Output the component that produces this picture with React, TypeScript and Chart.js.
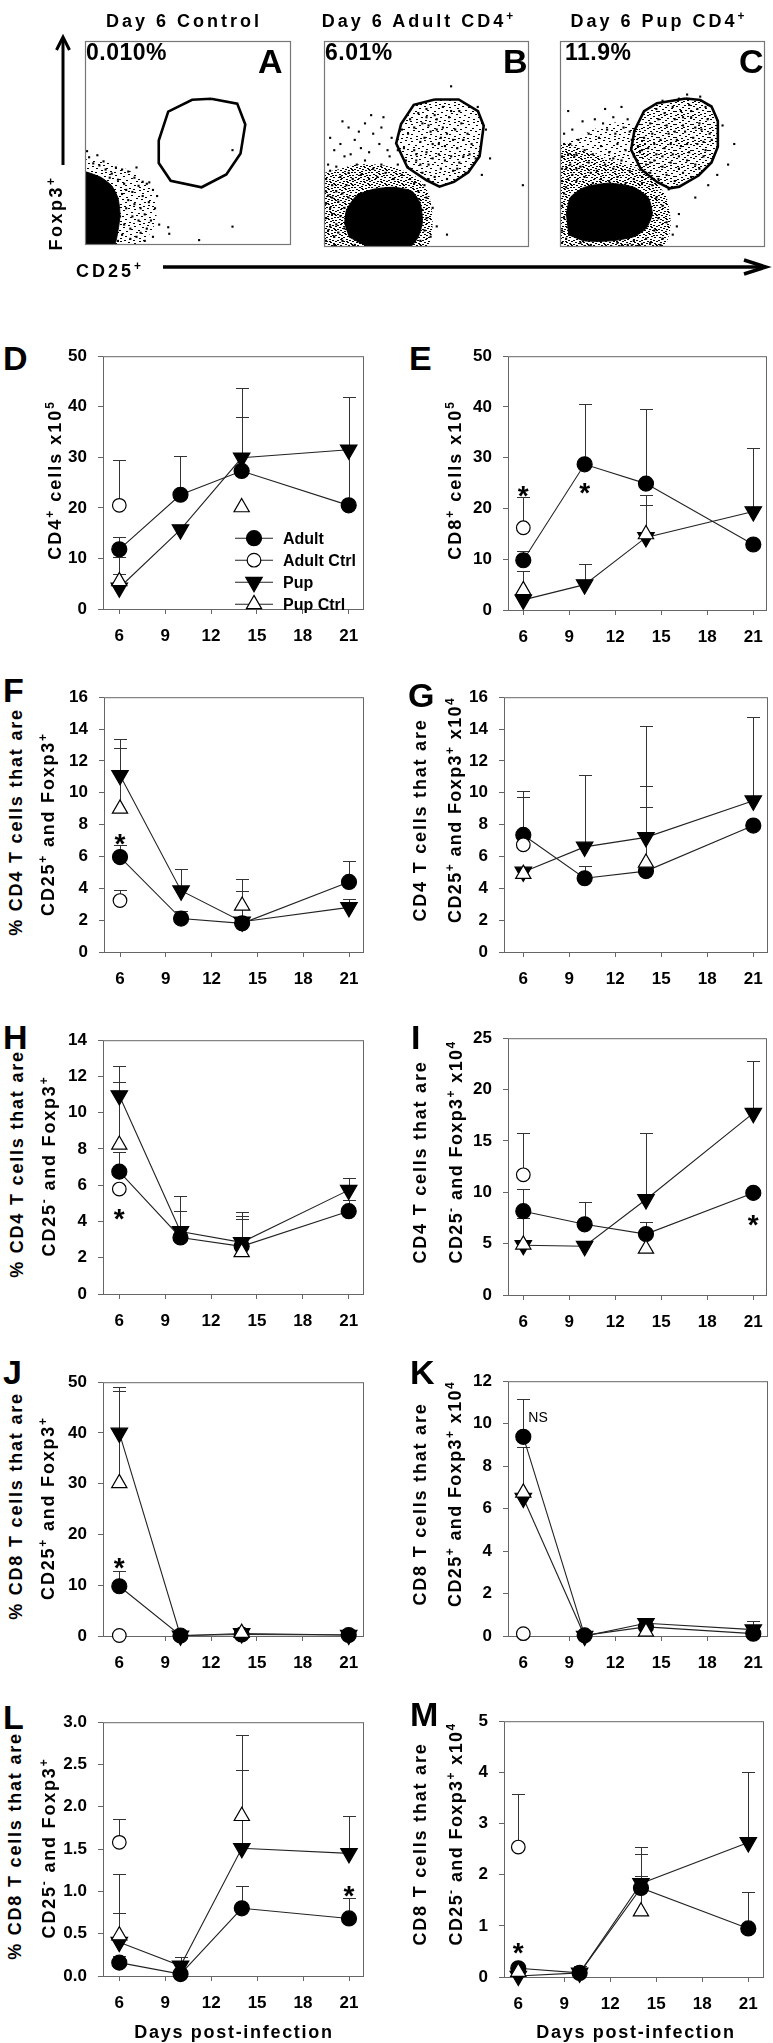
import React, { useEffect, useRef } from 'react';
import { Chart, registerables } from 'chart.js';

Chart.register(...registerables);

if (typeof document !== 'undefined') document.body.style.margin = '0';

const FONT = '"Liberation Sans", Arial, Helvetica, sans-serif';

// ================= DATA: time-course panels =================
const DAYS = [6, 10, 14, 21];
const CTRL_DAYS = [6, 14];
const X_TICKS = [6, 9, 12, 15, 18, 21];
const SERIES_NAMES = ['Adult', 'Adult Ctrl', 'Pup', 'Pup Ctrl'];

// D: CD4+ cells x10^5
const dAdult = [11.8, 22.6, 27.3, 20.5];
const dAdultHi = [14.3, 30.2, 43.7, 41.9];
const dPup = [4.2, 15.7, 29.9, 31.5];
const dPupHi = [10.2, null, 37.9, null];
const dAdultCtrl = [20.5, null];
const dAdultCtrlHi = [29.5, null];
const dPupCtrl = [5.5, 20.1];
const dPupCtrlHi = [6.9, null];
const dYTicks = [0, 10, 20, 30, 40, 50];
const dNotes: any[] = [];

// E: CD8+ cells x10^5
const eAdult = [9.8, 28.7, 24.9, 12.9];
const eAdultHi = [11.6, 40.5, 39.5, null];
const ePup = [2.0, 5.0, 14.3, 19.4];
const ePupHi = [7.7, 9.0, 20.6, 32.0];
const eAdultCtrl = [16.2, null];
const eAdultCtrlHi = [22.2, null];
const ePupCtrl = [3.9, 14.9];
const ePupCtrlHi = [null, 22.7];
const eYTicks = [0, 10, 20, 30, 40, 50];
const eNotes = [{ x: 6, y: 23.8, t: '*' }, { x: 10, y: 24.4, t: '*' }];

// F: % CD4 T cells CD25+ Foxp3+
const fAdult = [5.96, 2.1, 1.8, 4.4];
const fAdultHi = [6.7, 2.6, null, 5.7];
const fPup = [11.1, 3.85, 1.9, 2.8];
const fPupHi = [13.4, 5.2, 3.85, 3.35];
const fAdultCtrl = [3.23, null];
const fAdultCtrlHi = [3.9, null];
const fPupCtrl = [9.0, 2.9];
const fPupCtrlHi = [12.8, 4.6];
const fYTicks = [0, 2, 4, 6, 8, 10, 12, 14, 16];
const fNotes = [{ x: 6, y: 7.25, t: '*' }];

// G: CD4 T cells CD25+ Foxp3+ x10^4
const gAdult = [7.35, 4.63, 5.08, 7.94];
const gAdultHi = [10.1, 5.4, 9.1, null];
const gPup = [5.03, 6.6, 7.2, 9.5];
const gPupHi = [null, 11.1, 14.2, 14.77];
const gAdultCtrl = [6.73, null];
const gAdultCtrlHi = [9.73, null];
const gPupCtrl = [4.9, 5.6];
const gPupCtrlHi = [null, 10.4];
const gYTicks = [0, 2, 4, 6, 8, 10, 12, 14, 16];
const gNotes: any[] = [];

// H: % CD4 T cells CD25- Foxp3+
const hAdult = [6.75, 3.12, 2.63, 4.57];
const hAdultHi = [7.83, 4.58, 4.15, 5.2];
const hPup = [10.95, 3.45, 2.85, 5.73];
const hPupHi = [12.6, 5.43, 4.5, 6.39];
const hAdultCtrl = [5.79, null];
const hAdultCtrlHi = [null, null];
const hPupCtrl = [8.23, 2.3];
const hPupCtrlHi = [11.7, 4.3];
const hYTicks = [0, 2, 4, 6, 8, 10, 12, 14];
const hNotes = [{ x: 6, y: 4.5, t: '*' }];

// I: CD4 T cells CD25- Foxp3+ x10^4
const iAdult = [8.16, 6.88, 5.93, 9.94];
const iAdultHi = [10.3, 9.1, 7.07, null];
const iPup = [4.84, 4.75, 9.3, 17.7];
const iPupHi = [7.45, null, 15.8, 22.8];
const iAdultCtrl = [11.7, null];
const iAdultCtrlHi = [15.8, null];
const iPupCtrl = [4.9, 4.5];
const iPupCtrlHi = [null, null];
const iYTicks = [0, 5, 10, 15, 20, 25];
const iNotes = [{ x: 21, y: 7.45, t: '*' }];

// J: % CD8 T cells CD25+ Foxp3+
const jAdult = [9.8, 0.1, 0.3, 0.2];
const jAdultHi = [12.85, null, null, null];
const jPup = [40.0, 0.05, 0.5, 0.2];
const jPupHi = [49.0, null, null, null];
const jAdultCtrl = [0.1, null];
const jAdultCtrlHi = [null, null];
const jPupCtrl = [30.1, 0.6];
const jPupCtrlHi = [48.2, null];
const jYTicks = [0, 10, 20, 30, 40, 50];
const jNotes = [{ x: 6, y: 14.8, t: '*' }];

// K: CD8 T cells CD25+ Foxp3+ x10^4
const kAdult = [9.38, 0.03, 0.43, 0.11];
const kAdultHi = [11.18, null, 0.87, null];
const kPup = [6.5, 0.0, 0.6, 0.3];
const kPupHi = [null, null, null, 0.71];
const kAdultCtrl = [0.11, null];
const kAdultCtrlHi = [null, null];
const kPupCtrl = [6.75, 0.2];
const kPupCtrlHi = [8.92, null];
const kYTicks = [0, 2, 4, 6, 8, 10, 12];
const kNotes = [{ x: 6, y: 10.26, t: 'NS' }];

// L: % CD8 T cells CD25- Foxp3+
const lAdult = [0.158, 0.023, 0.8, 0.68];
const lAdultHi = [0.235, 0.22, 1.06, 0.92];
const lPup = [0.4, 0.12, 1.51, 1.45];
const lPupHi = [1.21, null, 2.43, 1.89];
const lAdultCtrl = [1.58, null];
const lAdultCtrlHi = [1.85, null];
const lPupCtrl = [0.48, 1.89];
const lPupCtrlHi = [0.75, 2.85];
const lYTicks = [0, 0.5, 1.0, 1.5, 2.0, 2.5, 3.0];
const lNotes = [{ x: 21, y: 1.03, t: '*' }];

// M: CD8 T cells CD25- Foxp3+ x10^4
const mAdult = [0.17, 0.08, 1.74, 0.95];
const mAdultHi = [null, 0.22, 2.41, 1.67];
const mPup = [0.02, 0.08, 1.83, 2.63];
const mPupHi = [null, null, 2.54, 4.01];
const mAdultCtrl = [2.54, null];
const mAdultCtrlHi = [3.58, null];
const mPupCtrl = [0.1, 1.28];
const mPupCtrlHi = [null, 1.97];
const mYTicks = [0, 1, 2, 3, 4, 5];
const mNotes = [{ x: 6, y: 0.6, t: '*' }];

// ================= DATA: flow cytometry panels (0-100 plot units) =================
const aGate = [61.2, 71.7, 73.9, 69.3, 77.8, 59.1, 75.5, 44.9, 68.6, 34.6, 56.6, 28.3, 41.6, 31.5, 35.8, 40.2, 35.8, 51.2, 40.4, 65.4, 52.0, 71.2];
const aCore = [0, 0, 14, 0, 16, 7, 17, 15, 16, 23, 13, 29, 8, 33, 3, 35, 0, 36];
const aHalo = [0, 0, 26, 0, 33, 8, 35, 18, 32, 28, 24, 35, 14, 40, 5, 42, 0, 42];
const aDots = [16, 2, 18, 5, 19, 10, 17, 14, 20, 18, 18, 25, 21, 22, 22, 8, 23, 14, 24, 20, 25, 4, 19, 30, 16, 32, 13, 35, 10, 37, 7, 39, 4, 40, 20, 27, 23, 26, 26, 12, 27, 18, 28, 24, 30, 8, 29, 15, 31, 21, 26, 29, 24, 33, 22, 3, 32, 12, 34, 18, 33, 27, 36, 10, 28, 31, 21, 36, 9, 41, 15, 38, 12, 33, 27, 6, 30, 30, 35, 24, 18, 37, 25, 38, 2, 43, 6, 44, 29, 2, 33, 4, 71.6, 46.5, 71.6, 9, 55.4, 2.4, 40.9, 5.5, 31.2, 30.7, 40.4, 8.7, 1, 46];

const bGate = [54.0, 71.6, 65.7, 71.6, 75.1, 65.9, 77.9, 58.9, 75.9, 44.1, 70.4, 36.3, 63.4, 31.6, 56.3, 29.3, 50.1, 32.4, 40.7, 38.6, 35.2, 50.3, 37.6, 59.7, 43.8, 69.0];
const bCore = [12, 5, 20, 1, 30, 0, 42, 0, 46, 5, 48, 12, 47, 21, 43, 27, 34, 29, 24, 28, 16, 25, 11, 18, 10, 11];
const bHalo = [0, 0, 50, 0, 53, 12, 51, 26, 45, 34, 36, 38, 26, 40, 16, 40, 8, 38, 0, 36];
const bDots = [1, 3, 2, 8, 1, 14, 3, 19, 2, 25, 4, 30, 1, 33, 5, 5, 6, 11, 4, 16, 7, 22, 6, 27, 8, 34, 3, 37, 9, 3, 10, 9, 8, 15, 10, 19, 9, 26, 11, 30, 12, 36, 2, 40, 6, 39, 1, 21, 5, 1, 11, 14, 12, 24, 3, 10, 7, 7, 1, 27, 13, 6, 4, 24,
  15, 1, 20, 0.5, 25, 1, 30, 0.5, 38, 1, 42, 1, 47, 3, 49, 8, 50, 14, 48, 18, 50, 24, 46, 27, 49, 30, 52, 5, 53, 19, 55, 10, 51, 33, 44, 31,
  14, 33, 18, 35, 22, 33, 26, 34, 30, 36, 34, 33, 38, 35, 42, 33, 16, 40, 20, 42, 24, 38, 28, 40, 32, 44, 36, 40, 13, 45, 18, 48, 22, 46, 27, 50, 31, 47, 10, 44, 15, 52, 24, 55, 8, 50, 33, 53, 12, 58, 20, 60, 28, 58, 5, 47, 36, 47, 40, 42, 3, 53, 17, 56, 29, 63, 38, 57, 23, 64, 9, 61,
  42, 38, 45, 42, 48, 36, 51, 40, 54, 34, 57, 38, 60, 33, 63, 37, 66, 41, 69, 36, 44, 47, 47, 51, 50, 46, 53, 50, 56, 45, 59, 49, 62, 44, 65, 48, 68, 52, 71, 45, 41, 55, 44, 58, 48, 60, 52, 56, 55, 62, 58, 58, 61, 63, 64, 57, 67, 60, 70, 55, 46, 65, 50, 67, 54, 64, 58, 68, 62, 66, 49, 53, 53, 43, 57, 53, 60, 55, 45, 45, 72, 50, 74, 43, 39, 48, 66, 66, 42, 62, 51, 59, 56, 50, 63, 52, 47, 40, 59, 42, 55, 57, 68, 44, 65, 38, 50, 63,
  62, 78, 81, 43, 97, 30, 60, 6, 79, 57, 77, 35, 75, 68];

const cGate = [61.4, 72.1, 68.4, 71.4, 73.9, 68.2, 77.0, 61.2, 77.0, 48.7, 73.9, 41.0, 67.6, 34.7, 58.2, 29.3, 53.5, 28.5, 47.3, 31.6, 39.4, 37.9, 34.7, 47.2, 36.3, 56.5, 41.0, 65.9, 47.3, 69.8];
const cCore = [4, 6, 12, 3, 25, 3, 36, 5, 42, 9, 45, 16, 43, 24, 36, 29, 24, 31, 12, 29, 5, 24, 3, 15];
const cHalo = [0, 0, 50, 0, 54, 10, 52, 24, 46, 32, 38, 38, 26, 42, 14, 46, 4, 50, 0, 50];
const cHalo2 = [0, 48, 10, 54, 24, 60, 36, 60, 42, 52, 42, 40, 30, 40, 16, 46, 0, 50];
const cDots = [1, 2, 1, 8, 2, 14, 1, 20, 2, 26, 1, 32, 3, 38, 1, 44, 3, 4, 2, 50, 4, 33, 3, 29, 5, 40, 6, 35, 8, 38, 1, 38, 4, 45, 7, 44, 2, 55, 5, 50,
  10, 2, 15, 1, 20, 3, 25, 0.5, 28, 2, 33, 1, 36, 3, 42, 4, 44, 2, 46, 8, 48, 14, 50, 20, 47, 24, 52, 12, 55, 6, 58, 16, 53, 28, 45, 30, 12, 0.5, 38, 0.5, 30, 0.5, 40, 1.5, 35, 0.8, 49, 1, 50, 4, 57, 10,
  8, 32, 12, 34, 16, 31, 20, 33, 24, 32, 28, 34, 32, 31, 36, 33, 40, 31, 10, 39, 14, 41, 18, 37, 22, 40, 26, 38, 30, 42, 34, 37, 38, 40, 42, 36, 12, 47, 16, 45, 20, 49, 24, 46, 28, 50, 32, 47, 36, 44, 9, 52, 14, 55, 19, 53, 23, 57, 27, 55, 31, 58, 35, 52, 6, 57, 11, 61, 17, 62, 26, 63, 33, 62, 4, 66, 22, 67, 30, 68, 44, 41, 40, 47, 15, 36, 26, 43, 38, 49, 8, 45, 21, 60, 34, 56,
  40, 34, 44, 36, 48, 33, 52, 35, 56, 32, 60, 36, 64, 34, 68, 38, 42, 40, 46, 42, 50, 39, 54, 41, 58, 38, 62, 42, 66, 40, 70, 44, 39, 46, 43, 48, 47, 45, 51, 48, 55, 45, 59, 49, 63, 46, 67, 50, 71, 47, 74, 52, 41, 53, 45, 55, 49, 52, 53, 55, 57, 52, 61, 56, 65, 53, 69, 57, 73, 55, 44, 60, 48, 62, 52, 59, 56, 62, 60, 59, 64, 63, 68, 60, 72, 62, 47, 67, 51, 65, 55, 68, 59, 66, 63, 69, 67, 67, 71, 68, 50, 44, 58, 44, 62, 50, 54, 50, 46, 50, 66, 58, 70, 51, 60, 63, 56, 56, 64, 66, 50, 71, 58, 72,
  76.7, 35, 72.3, 30, 79.3, 59, 68.4, 73, 82, 40, 66, 24, 62, 74, 85, 50];

// ================= layout / style =================
const PADL = 72, PADT = 16, PADR = 14, PADB = 48;
const LINE_COLOR = '#222';
const ERR_COLOR = '#333';
const AXIS_COLOR = '#666';
const CAP = 6.5;

// speckle textures (style only): tile width, height and 2x1 dash offsets
const TILE_DENSE = { w: 17, h: 15, cells: [0, 0, 5, 0, 11, 1, 14, 0, 2, 2, 8, 2, 15, 3, 4, 3, 10, 4, 1, 5, 13, 5, 6, 5, 3, 7, 9, 7, 12, 8, 0, 8, 6, 9, 15, 9, 2, 10, 10, 10, 5, 11, 13, 11, 8, 12, 0, 12, 11, 13, 3, 13, 15, 13, 7, 14, 7, 1, 12, 3, 4, 6, 9, 9, 14, 12] };
const TILE_MEDHI = { w: 17, h: 13, cells: [0, 0, 6, 0, 12, 1, 3, 2, 9, 3, 15, 3, 1, 4, 7, 5, 13, 6, 4, 7, 10, 8, 0, 9, 15, 9, 6, 10, 12, 11, 2, 12, 8, 12] };
const TILE_MED = { w: 19, h: 17, cells: [1, 0, 9, 1, 15, 2, 4, 3, 12, 5, 0, 6, 7, 7, 17, 8, 3, 9, 11, 10, 15, 12, 6, 12, 1, 14, 10, 15, 14, 16, 5, 16] };

const STYLE: any = {
  adult: { shape: 'circle', r: 7.5, rot: 0, bg: '#000' },
  adultCtrl: { shape: 'circle', r: 6.8, rot: 0, bg: '#fff' },
  pup: { shape: 'triangle', r: 9.5, rot: 180, bg: '#000' },
  pupCtrl: { shape: 'triangle', r: 8.8, rot: 0, bg: '#fff' },
};

const PANELS: any[] = [
  { id: 'D', adult: dAdult, adultHi: dAdultHi, pup: dPup, pupHi: dPupHi, aCtrl: dAdultCtrl, aCtrlHi: dAdultCtrlHi, pCtrl: dPupCtrl, pCtrlHi: dPupCtrlHi, yTicks: dYTicks, notes: dNotes, legend: true, box: { l: 103, r: 364, t: 351, b: 609, x6: 119.3, x21: 348.7 } },
  { id: 'E', adult: eAdult, adultHi: eAdultHi, pup: ePup, pupHi: ePupHi, aCtrl: eAdultCtrl, aCtrlHi: eAdultCtrlHi, pCtrl: ePupCtrl, pCtrlHi: ePupCtrlHi, yTicks: eYTicks, notes: eNotes, box: { l: 508, r: 767, t: 351, b: 610, x6: 523.3, x21: 753.3 } },
  { id: 'F', adult: fAdult, adultHi: fAdultHi, pup: fPup, pupHi: fPupHi, aCtrl: fAdultCtrl, aCtrlHi: fAdultCtrlHi, pCtrl: fPupCtrl, pCtrlHi: fPupCtrlHi, yTicks: fYTicks, notes: fNotes, box: { l: 104, r: 364, t: 692, b: 952, x6: 120, x21: 349 } },
  { id: 'G', adult: gAdult, adultHi: gAdultHi, pup: gPup, pupHi: gPupHi, aCtrl: gAdultCtrl, aCtrlHi: gAdultCtrlHi, pCtrl: gPupCtrl, pCtrlHi: gPupCtrlHi, yTicks: gYTicks, notes: gNotes, box: { l: 504, r: 768, t: 692, b: 952, x6: 523.3, x21: 753.3 } },
  { id: 'H', adult: hAdult, adultHi: hAdultHi, pup: hPup, pupHi: hPupHi, aCtrl: hAdultCtrl, aCtrlHi: hAdultCtrlHi, pCtrl: hPupCtrl, pCtrlHi: hPupCtrlHi, yTicks: hYTicks, notes: hNotes, box: { l: 103, r: 364, t: 1035, b: 1294, x6: 119.3, x21: 348.7 } },
  { id: 'I', adult: iAdult, adultHi: iAdultHi, pup: iPup, pupHi: iPupHi, aCtrl: iAdultCtrl, aCtrlHi: iAdultCtrlHi, pCtrl: iPupCtrl, pCtrlHi: iPupCtrlHi, yTicks: iYTicks, notes: iNotes, box: { l: 508, r: 767, t: 1033, b: 1295, x6: 523.3, x21: 753.3 } },
  { id: 'J', adult: jAdult, adultHi: jAdultHi, pup: jPup, pupHi: jPupHi, aCtrl: jAdultCtrl, aCtrlHi: jAdultCtrlHi, pCtrl: jPupCtrl, pCtrlHi: jPupCtrlHi, yTicks: jYTicks, notes: jNotes, box: { l: 103, r: 364, t: 1377, b: 1636, x6: 119.3, x21: 348.7 } },
  { id: 'K', adult: kAdult, adultHi: kAdultHi, pup: kPup, pupHi: kPupHi, aCtrl: kAdultCtrl, aCtrlHi: kAdultCtrlHi, pCtrl: kPupCtrl, pCtrlHi: kPupCtrlHi, yTicks: kYTicks, notes: kNotes, box: { l: 508, r: 768, t: 1376, b: 1636, x6: 523.3, x21: 753.3 } },
  { id: 'L', adult: lAdult, adultHi: lAdultHi, pup: lPup, pupHi: lPupHi, aCtrl: lAdultCtrl, aCtrlHi: lAdultCtrlHi, pCtrl: lPupCtrl, pCtrlHi: lPupCtrlHi, yTicks: lYTicks, notes: lNotes, decimals: 1, box: { l: 103, r: 364, t: 1717, b: 1976, x6: 119.3, x21: 349 } },
  { id: 'M', adult: mAdult, adultHi: mAdultHi, pup: mPup, pupHi: mPupHi, aCtrl: mAdultCtrl, aCtrlHi: mAdultCtrlHi, pCtrl: mPupCtrl, pCtrlHi: mPupCtrlHi, yTicks: mYTicks, notes: mNotes, box: { l: 504, r: 764, t: 1716, b: 1977, x6: 518.3, x21: 748.3 } },
];

const FLOWS: any[] = [
  { id: 'A', gate: aGate, core: aCore, halos: [{ pts: aHalo, tile: TILE_MED }], dots: aDots, gateTile: null, box: { l: 81, t: 37, w: 214, h: 212 } },
  { id: 'B', gate: bGate, core: bCore, halos: [{ pts: bHalo, tile: TILE_DENSE }], dots: bDots, gateTile: TILE_MED, box: { l: 320, t: 37, w: 213, h: 214 } },
  { id: 'C', gate: cGate, core: cCore, halos: [{ pts: cHalo, tile: TILE_DENSE }, { pts: cHalo2, tile: TILE_MED }], dots: cDots, gateTile: TILE_MEDHI, box: { l: 556, t: 37, w: 213, h: 214 } },
];

// ================= helpers =================
function pairs(flat: number[]) {
  const out: any[] = [];
  for (let i = 0; i < flat.length; i += 2) out.push({ x: flat[i], y: flat[i + 1] });
  return out;
}
function closed(flat: number[]) {
  const p = pairs(flat);
  p.push({ ...p[0] });
  return p;
}
function series(xs: number[], ys: any[]) {
  return xs.map((x, i) => ({ x, y: ys[i] }));
}
function makePattern(tile: any) {
  const c = document.createElement('canvas');
  c.width = tile.w;
  c.height = tile.h;
  const g = c.getContext('2d') as CanvasRenderingContext2D;
  g.fillStyle = '#000';
  for (let i = 0; i < tile.cells.length; i += 2) g.fillRect(tile.cells[i], tile.cells[i + 1], 2, 1);
  return g.createPattern(c, 'repeat');
}
function drawMarker(ctx: CanvasRenderingContext2D, st: any, x: number, y: number) {
  ctx.beginPath();
  if (st.shape === 'circle') {
    ctx.arc(x, y, st.r, 0, Math.PI * 2);
  } else {
    let rad = (st.rot * Math.PI) / 180;
    for (let i = 0; i < 3; i++) {
      const px = x + Math.sin(rad) * st.r;
      const py = y - Math.cos(rad) * st.r;
      if (i === 0) ctx.moveTo(px, py); else ctx.lineTo(px, py);
      rad += (2 * Math.PI) / 3;
    }
    ctx.closePath();
  }
  ctx.fillStyle = st.bg;
  ctx.fill();
  ctx.lineWidth = 1.2;
  ctx.strokeStyle = '#000';
  ctx.stroke();
}

// ================= line panel =================
function LinePanel({ p }: { p: any }) {
  const ref = useRef<HTMLCanvasElement>(null);
  const L = Math.round(p.box.l), R = Math.round(p.box.r), T = Math.round(p.box.t), B = Math.round(p.box.b);
  const W = PADL + (R - L) + PADR;
  const H = PADT + (B - T) + PADB;

  useEffect(() => {
    const ppd = (p.box.x21 - p.box.x6) / 15;
    const xMin = 6 - (p.box.x6 - L) / ppd;
    const xMax = 21 + (R - p.box.x21) / ppd;
    const mk = (label: string, xs: number[], ys: any[], hi: any[], st: any, showLine: boolean) => ({
      type: 'line',
      label,
      data: series(xs, ys),
      errHi: hi,
      showLine,
      spanGaps: true,
      fill: false,
      tension: 0,
      clip: false,
      borderColor: LINE_COLOR,
      borderWidth: 1.1,
      pointStyle: st.shape,
      pointRadius: st.r,
      pointRotation: st.rot,
      pointBackgroundColor: st.bg,
      pointBorderColor: '#000',
      pointBorderWidth: 1.2,
    });
    const datasets = [
      mk(SERIES_NAMES[3], CTRL_DAYS, p.pCtrl, p.pCtrlHi, STYLE.pupCtrl, false),
      mk(SERIES_NAMES[1], CTRL_DAYS, p.aCtrl, p.aCtrlHi, STYLE.adultCtrl, false),
      mk(SERIES_NAMES[0], DAYS, p.adult, p.adultHi, STYLE.adult, true),
      mk(SERIES_NAMES[2], DAYS, p.pup, p.pupHi, STYLE.pup, true),
    ];

    const boxAndErr = {
      id: 'boxAndErr',
      beforeDatasetsDraw(chart: any) {
        const { ctx, chartArea: a } = chart;
        const xs = chart.scales.x, ys = chart.scales.y;
        ctx.save();
        ctx.strokeStyle = AXIS_COLOR;
        ctx.lineWidth = 1;
        ctx.strokeRect(a.left + 0.5, a.top + 0.5, a.right - a.left - 1, a.bottom - a.top);
        ctx.strokeStyle = ERR_COLOR;
        ctx.lineWidth = 1;
        chart.data.datasets.forEach((ds: any) => {
          const hi = ds.errHi;
          if (!hi) return;
          ds.data.forEach((d: any, j: number) => {
            if (d.y == null || hi[j] == null) return;
            const px = Math.round(xs.getPixelForValue(d.x)) + 0.5;
            const y0 = ys.getPixelForValue(d.y);
            const y1 = Math.round(ys.getPixelForValue(hi[j])) + 0.5;
            ctx.beginPath();
            ctx.moveTo(px, y0);
            ctx.lineTo(px, y1);
            ctx.moveTo(px - CAP, y1);
            ctx.lineTo(px + CAP, y1);
            ctx.stroke();
          });
        });
        ctx.restore();
      },
      afterDatasetsDraw(chart: any) {
        const { ctx, chartArea: a } = chart;
        const xs = chart.scales.x, ys = chart.scales.y;
        ctx.save();
        ctx.fillStyle = '#000';
        p.notes.forEach((n: any) => {
          const px = xs.getPixelForValue(n.x);
          const py = ys.getPixelForValue(n.y);
          if (n.t === '*') {
            ctx.font = `bold 28px ${FONT}`;
            ctx.textAlign = 'center';
            ctx.textBaseline = 'alphabetic';
            ctx.fillText('*', px, py + 16);
          } else {
            ctx.font = `14px ${FONT}`;
            ctx.textAlign = 'left';
            ctx.textBaseline = 'middle';
            ctx.fillText(n.t, px + 5, py);
          }
        });
        if (p.legend) {
          const rows = [182, 204, 226, 248];
          const order = [STYLE.adult, STYLE.adultCtrl, STYLE.pup, STYLE.pupCtrl];
          order.forEach((st: any, i: number) => {
            const y = a.top + rows[i];
            ctx.strokeStyle = LINE_COLOR;
            ctx.lineWidth = 1.1;
            ctx.beginPath();
            ctx.moveTo(a.left + 132, y);
            ctx.lineTo(a.left + 170, y);
            ctx.stroke();
            drawMarker(ctx, st, a.left + 151, y);
            ctx.fillStyle = '#000';
            ctx.font = `bold 16px ${FONT}`;
            ctx.textAlign = 'left';
            ctx.textBaseline = 'middle';
            ctx.fillText(SERIES_NAMES[i], a.left + 180, y + 1);
          });
        }
        ctx.restore();
      },
    };

    const tickFont = { family: FONT, size: 17, weight: 'bold' as const };
    const chart = new Chart(ref.current as HTMLCanvasElement, {
      type: 'line',
      data: { datasets: datasets as any },
      options: {
        animation: false,
        responsive: false,
        events: [],
        layout: { padding: { left: 0, top: PADT, right: PADR, bottom: 0 } },
        plugins: { legend: { display: false }, tooltip: { enabled: false } },
        scales: {
          x: {
            type: 'linear',
            min: xMin,
            max: xMax,
            afterFit: (s: any) => { s.height = PADB; },
            afterBuildTicks: (s: any) => { s.ticks = X_TICKS.map((v) => ({ value: v })); },
            grid: { drawOnChartArea: false, drawTicks: true, tickLength: 5, color: AXIS_COLOR },
            border: { display: false },
            ticks: { padding: 12, font: tickFont, color: '#000', maxRotation: 0, autoSkip: false, callback: (v: any) => String(v) },
          },
          y: {
            type: 'linear',
            min: 0,
            max: p.yTicks[p.yTicks.length - 1],
            afterFit: (s: any) => { s.width = PADL; },
            afterBuildTicks: (s: any) => { s.ticks = p.yTicks.map((v: number) => ({ value: v })); },
            grid: { drawOnChartArea: false, drawTicks: true, tickLength: 5, color: AXIS_COLOR },
            border: { display: false },
            ticks: { padding: 11, font: tickFont, color: '#000', autoSkip: false, callback: (v: any) => (p.decimals ? Number(v).toFixed(p.decimals) : String(v)) },
          },
        },
      } as any,
      plugins: [boxAndErr],
    });
    return () => chart.destroy();
  }, []);

  return (
    <canvas
      ref={ref}
      width={W}
      height={H}
      style={{ position: 'absolute', left: L - PADL, top: T - PADT, width: W, height: H }}
    />
  );
}

// ================= flow panel =================
function FlowPanel({ f }: { f: any }) {
  const ref = useRef<HTMLCanvasElement>(null);
  const { l, t, w, h } = f.box;
  useEffect(() => {
    const datasets: any[] = [
      { type: 'line', data: closed(f.gate), borderColor: '#000', borderWidth: 2.6, pointRadius: 0, fill: false, tension: 0, clip: false },
      { type: 'scatter', data: pairs(f.dots), pointStyle: 'rect', pointRadius: 1.5, backgroundColor: '#000', borderWidth: 0 },
      { type: 'line', data: pairs(f.core), fill: 'shape', backgroundColor: '#000', borderColor: '#000', borderWidth: 1, pointRadius: 0, tension: 0.2 },
      ...f.halos.map((hh: any) => ({ type: 'line', data: pairs(hh.pts), fill: 'shape', backgroundColor: makePattern(hh.tile), borderWidth: 0, pointRadius: 0, tension: 0.25 })),
    ];
    if (f.gateTile) {
      datasets.push({ type: 'line', data: closed(f.gate), fill: 'shape', backgroundColor: makePattern(f.gateTile), borderWidth: 0, pointRadius: 0, tension: 0 });
    }
    const border = {
      id: 'flowBorder',
      afterDraw(chart: any) {
        const { ctx, chartArea: a } = chart;
        ctx.save();
        ctx.strokeStyle = '#777';
        ctx.lineWidth = 1.2;
        ctx.strokeRect(a.left + 0.5, a.top + 0.5, a.right - a.left - 1, a.bottom - a.top - 1);
        ctx.restore();
      },
    };
    const chart = new Chart(ref.current as HTMLCanvasElement, {
      type: 'scatter',
      data: { datasets },
      options: {
        animation: false,
        responsive: false,
        events: [],
        layout: { padding: 0 },
        plugins: { legend: { display: false }, tooltip: { enabled: false } },
        scales: {
          x: { type: 'linear', min: 0, max: 100, display: false },
          y: { type: 'linear', min: 0, max: 100, display: false },
        },
      } as any,
      plugins: [border],
    });
    return () => chart.destroy();
  }, []);
  return <canvas ref={ref} width={w} height={h} style={{ position: 'absolute', left: l, top: t, width: w, height: h }} />;
}

// ================= text helpers =================
const supStyle: React.CSSProperties = { fontSize: '0.66em', position: 'relative', top: '-0.6em', verticalAlign: 'baseline', lineHeight: 0 };
const S = ({ children }: any) => <span style={supStyle}>{children}</span>;

function Txt({ x, y, children, size = 18, weight = 'bold', ls = 0, anchor = 'center' }: any) {
  const tx = anchor === 'center' ? '-50%' : anchor === 'right' ? '-100%' : '0';
  return (
    <div
      style={{
        position: 'absolute', left: x, top: y, transform: `translate(${tx},-50%)`,
        whiteSpace: 'nowrap', font: `${weight} ${size}px ${FONT}`, lineHeight: `${size}px`,
        letterSpacing: `${ls}px`, color: '#000',
      }}
    >
      {children}
    </div>
  );
}

function VTxt({ x, y, children, size = 18, ls = 1.8 }: any) {
  return (
    <div
      style={{
        position: 'absolute', left: x, top: y, transform: 'translate(-50%,-50%) rotate(-90deg)',
        whiteSpace: 'nowrap', font: `bold ${size}px ${FONT}`, lineHeight: `${size}px`,
        letterSpacing: `${ls}px`, color: '#000',
      }}
    >
      {children}
    </div>
  );
}

const LETTER = 34;

export default function App() {
  useEffect(() => {
    document.body.style.margin = '0';
  }, []);
  return (
    <div style={{ position: 'relative', width: 773, height: 2043, background: '#fff', overflow: 'hidden' }}>
      {FLOWS.map((f) => <FlowPanel key={f.id} f={f} />)}
      {PANELS.map((p) => <LinePanel key={p.id} p={p} />)}

      <svg width={773} height={300} style={{ position: 'absolute', left: 0, top: 0 }}>
        <line x1={63} y1={165} x2={63} y2={39} stroke="#000" strokeWidth={3} />
        <polyline points="56.5,50 63,37 69.5,50" fill="none" stroke="#000" strokeWidth={3} strokeLinejoin="miter" />
        <line x1={163} y1={267} x2={764} y2={267} stroke="#000" strokeWidth={3.5} />
        <polyline points="744,260 766,267 744,274" fill="none" stroke="#000" strokeWidth={3.5} />
      </svg>

      {/* flow titles */}
      <Txt x={184} y={21} ls={3}>Day 6 Control</Txt>
      <Txt x={419} y={21} ls={3}>Day 6 Adult CD4<S>+</S></Txt>
      <Txt x={659} y={21} ls={3}>Day 6 Pup CD4<S>+</S></Txt>
      <Txt x={86} y={52} size={23} weight="bold" ls={0.5} anchor="left">0.010%</Txt>
      <Txt x={325} y={52} size={23} weight="bold" ls={0.5} anchor="left">6.01%</Txt>
      <Txt x={565} y={52} size={23} weight="bold" ls={0.5} anchor="left">11.9%</Txt>
      <Txt x={258} y={61} size={LETTER} anchor="left">A</Txt>
      <Txt x={503} y={61} size={LETTER} anchor="left">B</Txt>
      <Txt x={739} y={61} size={LETTER} anchor="left">C</Txt>
      <VTxt x={56} y={213} ls={2.5}>Foxp3<S>+</S></VTxt>
      <Txt x={76} y={271} ls={3} anchor="left">CD25<S>+</S></Txt>

      {/* panel letters */}
      <Txt x={3} y={358} size={LETTER} anchor="left">D</Txt>
      <Txt x={409} y={358} size={LETTER} anchor="left">E</Txt>
      <Txt x={3} y={690} size={LETTER} anchor="left">F</Txt>
      <Txt x={408} y={695} size={LETTER} anchor="left">G</Txt>
      <Txt x={3} y={1037} size={LETTER} anchor="left">H</Txt>
      <Txt x={411} y={1037} size={LETTER} anchor="left">I</Txt>
      <Txt x={3} y={1372} size={LETTER} anchor="left">J</Txt>
      <Txt x={410} y={1372} size={LETTER} anchor="left">K</Txt>
      <Txt x={3} y={1717} size={LETTER} anchor="left">L</Txt>
      <Txt x={410} y={1714} size={LETTER} anchor="left">M</Txt>

      {/* y titles */}
      <VTxt x={55} y={480} ls={2}>CD4<S>+</S> cells x10<S>5</S></VTxt>
      <VTxt x={455} y={480} ls={2}>CD8<S>+</S> cells x10<S>5</S></VTxt>

      <VTxt x={16} y={822}>% CD4 T cells that are</VTxt>
      <VTxt x={48} y={824}>CD25<S>+</S> and Foxp3<S>+</S></VTxt>
      <VTxt x={420} y={820}>CD4 T cells that are</VTxt>
      <VTxt x={455} y={810} ls={1.4}>CD25<S>+</S> and Foxp3<S>+</S> x10<S>4</S></VTxt>

      <VTxt x={17} y={1164}>% CD4 T cells that are</VTxt>
      <VTxt x={49} y={1166}>CD25<S>-</S> and Foxp3<S>+</S></VTxt>
      <VTxt x={420} y={1162}>CD4 T cells that are</VTxt>
      <VTxt x={456} y={1152} ls={1.4}>CD25<S>-</S> and Foxp3<S>+</S> x10<S>4</S></VTxt>

      <VTxt x={16} y={1506}>% CD8 T cells that are</VTxt>
      <VTxt x={48} y={1508}>CD25<S>+</S> and Foxp3<S>+</S></VTxt>
      <VTxt x={420} y={1504}>CD8 T cells that are</VTxt>
      <VTxt x={455} y={1494} ls={1.4}>CD25<S>+</S> and Foxp3<S>+</S> x10<S>4</S></VTxt>

      <VTxt x={15} y={1846}>% CD8 T cells that are</VTxt>
      <VTxt x={49} y={1848}>CD25<S>-</S> and Foxp3<S>+</S></VTxt>
      <VTxt x={420} y={1844}>CD8 T cells that are</VTxt>
      <VTxt x={456} y={1834} ls={1.4}>CD25<S>-</S> and Foxp3<S>+</S> x10<S>4</S></VTxt>

      {/* x titles */}
      <Txt x={234} y={2032} ls={1.7}>Days post-infection</Txt>
      <Txt x={636} y={2032} ls={1.7}>Days post-infection</Txt>
    </div>
  );
}
